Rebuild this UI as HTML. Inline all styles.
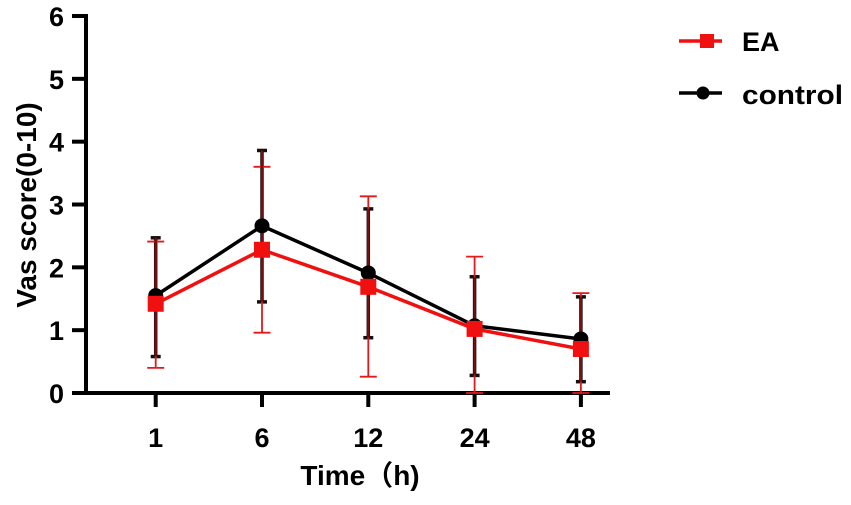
<!DOCTYPE html>
<html><head><meta charset="utf-8"><style>
body{margin:0;background:#fff;}
svg text{font-family:"Liberation Sans","Noto Sans CJK SC",sans-serif;font-weight:bold;}
</style></head><body>
<svg id="c" width="851" height="500" viewBox="0 0 851 500"></svg>
<script>
const categories=["1","6","12","24","48"];
const yTicks=[0,1,2,3,4,5,6];
const eaMean=[1.42,2.28,1.69,1.02,0.70];
const eaUpper=[2.41,3.60,3.13,2.17,1.59];
const eaLower=[0.40,0.96,0.26,0.00,0.00];
const ctlMean=[1.55,2.66,1.91,1.07,0.86];
const ctlUpper=[2.47,3.86,2.93,1.85,1.53];
const ctlLower=[0.58,1.45,0.88,0.28,0.18];

const svg=document.getElementById('c');
const NS='http://www.w3.org/2000/svg';
function mk(t,a,p){const e=document.createElementNS(NS,t);for(const k in a)e.setAttribute(k,a[k]);(p||svg).appendChild(e);return e;}
const y0=393,yTop=16,x0=86,xEnd=610;
function Y(v){return y0-(v/6)*(y0-yTop);}
function X(i){return 155.7+i*106.3;}

const ax=mk('g',{});


mk('line',{x1:x0,y1:yTop-2,x2:x0,y2:y0+2,stroke:'#000','stroke-width':4},ax);
mk('line',{x1:x0-2,y1:y0,x2:xEnd,y2:y0,stroke:'#000','stroke-width':4},ax);
yTicks.forEach(v=>{
  mk('line',{x1:x0-14,y1:Y(v),x2:x0,y2:Y(v),stroke:'#000','stroke-width':4},ax);
  const t=mk('text',{x:x0-22,y:Y(v)+10,'text-anchor':'end','font-size':27},ax);
  
  
  t.textContent=v;
});
categories.forEach((c,i)=>{
  mk('line',{x1:X(i),y1:y0,x2:X(i),y2:y0+14,stroke:'#000','stroke-width':4},ax);
  const t=mk('text',{x:X(i),y:y0+54,'text-anchor':'middle','font-size':27},ax);
  
  
  t.textContent=c;
});
const yt=mk('text',{x:0,y:0,'text-anchor':'middle','font-size':28,transform:'translate(36,205) rotate(-90)'});


yt.textContent='Vas score(0-10)';
const xt=mk('text',{x:360,y:485,'text-anchor':'middle','font-size':28});


xt.textContent='Time（h)';

function errs(up,lo,color,w,cap,name){
  const g=mk('g',{});
  
  
  up.forEach((u,i)=>{
    mk('line',{x1:X(i),y1:Y(u),x2:X(i),y2:Y(lo[i]),stroke:color,'stroke-width':w},g);
    mk('line',{x1:X(i)-cap,y1:Y(u),x2:X(i)+cap,y2:Y(u),stroke:color,'stroke-width':w},g);
    mk('line',{x1:X(i)-cap,y1:Y(lo[i]),x2:X(i)+cap,y2:Y(lo[i]),stroke:color,'stroke-width':w},g);
  });
}
errs(ctlUpper,ctlLower,'#111',3.5,5,'control-error-bars');
errs(eaUpper,eaLower,'#e41a1a',1.8,8.5,'ea-error-bars');
errs(ctlUpper,ctlLower,'#7a0d0d',2.2,0,'overlap-error-lines');

const cl=mk('polyline',{points:ctlMean.map((v,i)=>X(i)+','+Y(v)).join(' '),fill:'none',stroke:'#000','stroke-width':3.5});


ctlMean.forEach((v,i)=>{
  const p=mk('circle',{cx:X(i),cy:Y(v),r:7.5,fill:'#000'});
  
  
});
const el=mk('polyline',{points:eaMean.map((v,i)=>X(i)+','+Y(v)).join(' '),fill:'none',stroke:'#f01010','stroke-width':3.5});


eaMean.forEach((v,i)=>{
  const p=mk('rect',{x:X(i)-8,y:Y(v)-8,width:16,height:16,fill:'#f01010'});
  
  
});

const lg=mk('g',{});


mk('line',{x1:679,y1:41,x2:722,y2:41,stroke:'#f01010','stroke-width':3.5},lg);
mk('rect',{x:700,y:34,width:14,height:14,fill:'#f01010'},lg);
const l1=mk('text',{x:742,y:51,'font-size':27},lg);


l1.textContent='EA';
mk('line',{x1:679,y1:93,x2:722,y2:93,stroke:'#000','stroke-width':3.5},lg);
mk('circle',{cx:703,cy:93,r:6.5,fill:'#000'},lg);
const l2=mk('text',{x:742,y:104,'font-size':27,textLength:101,lengthAdjust:'spacingAndGlyphs'},lg);


l2.textContent='control';
</script>
</body></html>
